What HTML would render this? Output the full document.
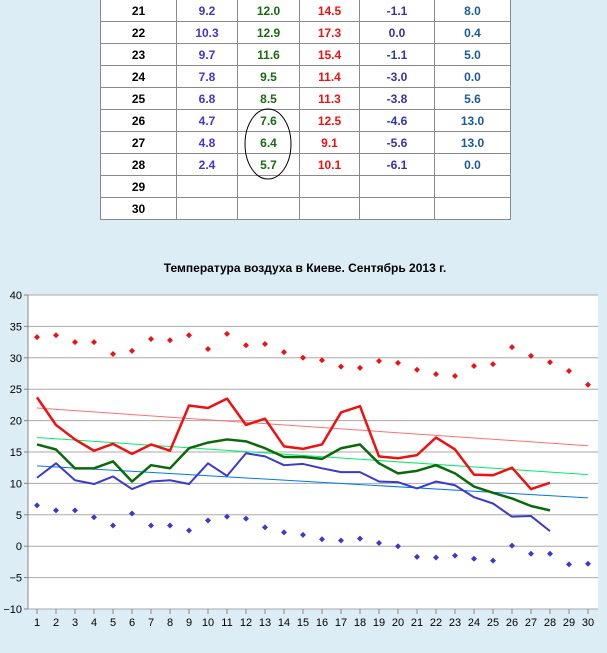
<!DOCTYPE html>
<html><head><meta charset="utf-8"><style>
body{margin:0;background:#dcedf5;width:607px;height:653px;overflow:hidden;font-family:"Liberation Sans",sans-serif}
table{position:absolute;left:100px;top:-1px;border-collapse:collapse;background:#fff;table-layout:fixed;width:410px}
td{border:1px solid #8a8a8a;height:22px;padding:0;text-align:center;font-size:12px;font-weight:bold;box-sizing:border-box}
</style></head><body>
<table>
<colgroup><col style="width:76px"><col style="width:61px"><col style="width:62px"><col style="width:60px"><col style="width:75px"><col style="width:76px"></colgroup>
<tbody id="tb"></tbody></table>
<svg id="s" width="607" height="653" style="position:absolute;left:0;top:0"></svg>
<script>
var rows=[[21,'9.2','12.0','14.5','-1.1','8.0'],[22,'10.3','12.9','17.3','0.0','0.4'],[23,'9.7','11.6','15.4','-1.1','5.0'],[24,'7.8','9.5','11.4','-3.0','0.0'],[25,'6.8','8.5','11.3','-3.8','5.6'],[26,'4.7','7.6','12.5','-4.6','13.0'],[27,'4.8','6.4','9.1','-5.6','13.0'],[28,'2.4','5.7','10.1','-6.1','0.0'],[29,'','','','',''],[30,'','','','','']];
var cols=['#000','#4433cc','#1a6a10','#ee1111','#3333aa','#1a5a9a'];
var h='';rows.forEach(function(r){h+='<tr>';r.forEach(function(c,i){h+='<td style="color:'+cols[i]+'">'+c+'</td>'});h+='</tr>'});
document.getElementById('tb').innerHTML=h;
function X(d){return 37+(d-1)*19}function Y(v){return 609-(v+10)*6.28}
var s='<ellipse cx="268" cy="144" rx="23" ry="35" fill="none" stroke="#000" stroke-width="1"/>';
s+='<text x="305" y="272" text-anchor="middle" font-size="12" font-weight="bold" fill="#000">Температура воздуха в Киеве. Сентябрь 2013 г.</text>';
s+='<rect x="28" y="295" width="570" height="314" fill="#fff"/>';
for(var v=-10;v<=40;v+=5){var y=Y(v);s+='<line x1="28" x2="598" y1="'+y+'" y2="'+y+'" stroke="#aaa"/>';s+='<line x1="24" x2="28" y1="'+y+'" y2="'+y+'" stroke="#888"/><text x="22" y="'+(y+4)+'" text-anchor="end" font-size="11" fill="#000">'+(v<0?'\u2212'+(-v):v)+'</text>';}
s+='<line x1="28" x2="28" y1="295" y2="609" stroke="#888"/>';
for(var d=1;d<=30;d++){s+='<line x1="'+X(d)+'" x2="'+X(d)+'" y1="609" y2="614" stroke="#888"/><text x="'+X(d)+'" y="626" text-anchor="middle" font-size="11">'+d+'</text>';}
function tl(a,b,c){s+='<line x1="'+X(1)+'" y1="'+Y(a)+'" x2="'+X(30)+'" y2="'+Y(b)+'" stroke="'+c+'" stroke-width="1"/>'}
tl(22,16,'#ff7070');tl(17.3,11.4,'#00ee66');tl(12.8,7.7,'#0077ee');
function pl(a,c,w){var p=a.map(function(v,i){return X(i+1)+','+Y(v)}).join(' ');s+='<polyline points="'+p+'" fill="none" stroke="'+c+'" stroke-width="'+w+'" stroke-linejoin="round"/>'}
pl([23.7,19.3,17,15.2,16.3,14.7,16.2,15.2,22.4,22,23.5,19.3,20.3,15.9,15.5,16.2,21.3,22.3,14.3,14.0,14.5,17.3,15.4,11.4,11.3,12.5,9.1,10.1],'#ee1111',2.5);
pl([16.2,15.4,12.4,12.4,13.5,10.3,12.9,12.4,15.6,16.5,17,16.7,15.6,14.2,14.2,13.9,15.6,16.2,13.2,11.6,12.0,12.9,11.6,9.5,8.5,7.6,6.4,5.7],'#0a6a0a',2.5);
pl([10.9,13.2,10.5,9.9,11.1,9.1,10.3,10.5,9.9,13.2,11.2,14.8,14.3,12.9,13.1,12.4,11.8,11.8,10.3,10.2,9.2,10.3,9.7,7.8,6.8,4.7,4.8,2.4],'#3a3acc',2);
function dots(a,c){a.forEach(function(v,i){var x=X(i+1),y=Y(v);s+='<polygon points="'+x+','+(y-3)+' '+(x+3)+','+y+' '+x+','+(y+3)+' '+(x-3)+','+y+'" fill="'+c+'"/>'})}
dots([33.3,33.6,32.5,32.5,30.6,31.1,33,32.8,33.6,31.4,33.8,32,32.2,30.9,30,29.6,28.6,28.4,29.5,29.2,28.1,27.4,27.1,28.7,29,31.7,30.3,29.3,27.9,25.7],'#ee1111');
dots([6.5,5.7,5.7,4.6,3.3,5.2,3.3,3.3,2.5,4.1,4.7,4.4,3,2.2,1.8,1.1,0.9,1.2,0.5,0.0,-1.7,-1.8,-1.5,-2,-2.3,0.1,-1.2,-1.2,-2.9,-2.8],'#3a3acc');
document.getElementById('s').innerHTML=s;
</script>
</body></html>
